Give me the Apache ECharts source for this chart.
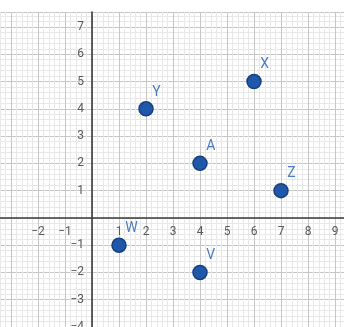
<!DOCTYPE html>
<html><head><meta charset="utf-8">
<script src="https://cdn.jsdelivr.net/npm/echarts@6/dist/echarts.min.js"></script>
<style>html,body{margin:0;padding:0;background:#fff}#c{width:344px;height:327px}</style>
</head><body><div id="c"></div>
<script>
var pointNames = ['Y','X','A','Z','W','V'];
var xValues = [2, 6, 4, 7, 1, 4];
var yValues = [4, 5, 2, 1, -1, -2];
var xTickLabels = {'-2':'−2','-1':'−1','1':'1','2':'2','3':'3','4':'4','5':'5','6':'6','7':'7','8':'8','9':'9'};
var yTickLabels = {'7':'7','6':'6','5':'5','4':'4','3':'3','2':'2','1':'1','-1':'−1','-2':'−2','-3':'−3','-4':'−4'};

var data = pointNames.map(function(n,i){ return {name:n, value:[xValues[i], yValues[i]]}; });
var chart = echarts.init(document.getElementById('c'));
chart.setOption({
  animation:false,
  grid:{left:-16, right:-18, top:12, bottom:0, containLabel:false, outerBoundsMode:'none'},
  xAxis:{type:'value', min:-4, max:10, interval:1, position:'bottom', offset:-109,
    axisLine:{onZero:false, lineStyle:{color:'#3a3a3a', width:1.6}},
    axisTick:{show:false},
    axisLabel:{margin:8, color:'#5a5a5a', fontFamily:'Roboto', fontSize:12,
      formatter:function(v){ return xTickLabels[String(v)] || ''; }},
    splitLine:{show:true, lineStyle:{color:'#c6c6c6', width:1}},
    minorTick:{show:false, splitNumber:5},
    minorSplitLine:{show:true, lineStyle:{color:'#e8e8e8', width:1}}
  },
  yAxis:{type:'value', min:-4, max:7.55, interval:1, position:'left', offset:-108,
    axisLine:{onZero:false, lineStyle:{color:'#3a3a3a', width:1.6}},
    axisTick:{show:false},
    axisLabel:{margin:8, color:'#5a5a5a', fontFamily:'Roboto', fontSize:12,
      formatter:function(v){ return yTickLabels[String(v)] || ''; }},
    splitLine:{show:true, lineStyle:{color:'#c6c6c6', width:1}},
    minorTick:{show:false, splitNumber:5},
    minorSplitLine:{show:true, lineStyle:{color:'#e8e8e8', width:1}}
  },
  series:[{type:'scatter', data:data, symbolSize:14,
    itemStyle:{color:'#1f57ab', borderColor:'#16407e', borderWidth:1.5, opacity:1},
    label:{show:true, formatter:'{b}', position:[14,-16], color:'#4a7dc4', fontFamily:'Roboto', fontSize:14}
  }]
});
</script></body></html>
